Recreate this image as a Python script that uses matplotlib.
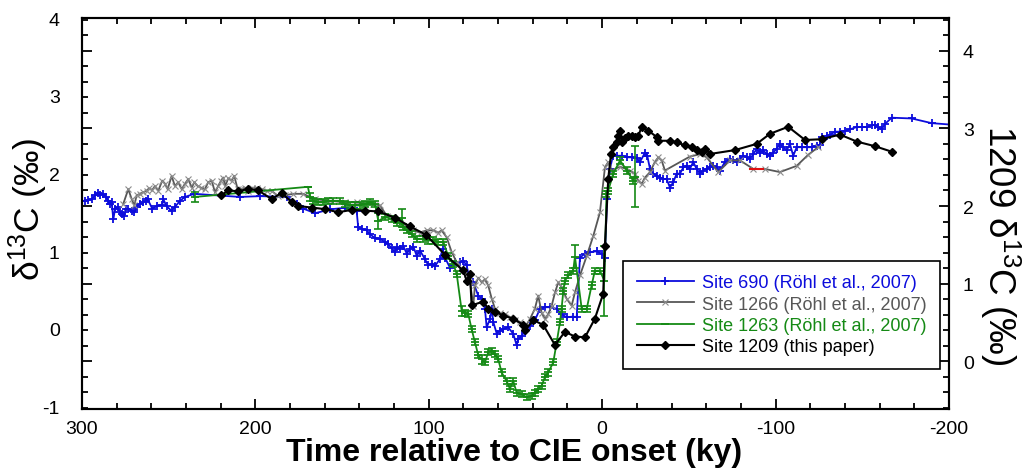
import matplotlib
matplotlib.use('Agg')
from matplotlib import pyplot
from matplotlib.ticker import MultipleLocator

pyplot.rcParams['font.family'] = ['Liberation Sans', 'DejaVu Sans']
pyplot.rcParams['mathtext.fontset'] = 'custom'
pyplot.rcParams['mathtext.rm'] = 'Liberation Sans'
pyplot.rcParams['mathtext.it'] = 'Liberation Sans:italic'
pyplot.rcParams['mathtext.bf'] = 'Liberation Sans:bold'
pyplot.rcParams['axes.unicode_minus'] = False

# Site 690 (Rohl et al., 2007), ky relative to CIE onset / d13C
site690_x = [300.5, 298.3, 296.4, 294.4, 292.5, 290.9, 289.6, 287.7, 286.3, 284.8,
             283.9, 282.9, 281.9, 281.0, 279.4, 278.1, 276.8, 275.6, 274.8, 273.3,
             271.3, 269.8, 268.5, 266.6, 264.6, 263.3, 262.1, 259.5, 256.9, 253.7,
             253.1, 251.2, 248.3, 246.4, 243.5, 240.6, 235.2, 208.9, 197.3, 182.0,
             176.2, 172.4, 165.6, 157.0, 148.3, 144.5, 141.6, 140.7, 138.7, 135.8,
             133.9, 131.0, 128.1, 125.3, 123.4, 121.4, 119.5, 118.5, 116.6, 114.7,
             112.7, 110.8, 108.9, 106.9, 105.1, 102.2, 100.3, 98.3, 96.4, 93.6,
             92.0, 90.7, 87.8, 84.9, 82.0, 80.1, 78.2, 76.2, 74.3, 71.5,
             69.5, 67.6, 66.6, 64.7, 63.7, 62.8, 60.8, 58.9, 57.0, 54.2,
             51.3, 49.3, 48.4, 46.4, 44.5, 41.6, 38.8, 35.9, 33.0, 30.1,
             26.2, 23.4, 20.5, 16.7, 14.7, 12.8, 9.9, 7.0, 3.2, 0.3,
             -1.6, -2.8, -4.5, -6.2, -8.4, -11.3, -14.1, -17.0, -19.9, -21.8,
             -24.7, -26.0, -27.6, -29.5, -31.4, -33.3, -35.3, -37.2, -39.1, -41.0,
             -43.0, -44.9, -46.8, -48.7, -50.6, -52.5, -54.5, -56.4, -58.3, -60.3,
             -62.2, -64.1, -66.0, -67.9, -70.8, -73.7, -75.6, -77.6, -79.5, -81.4,
             -83.3, -85.2, -87.2, -89.1, -91.0, -92.9, -94.9, -96.8, -98.7, -100.6,
             -102.5, -104.5, -106.4, -108.3, -110.2, -112.2, -115.0, -117.9, -120.8, -123.7,
             -125.6, -126.6, -129.5, -131.4, -134.3, -137.1, -140.0, -142.9, -146.8, -149.7,
             -152.5, -155.4, -157.3, -159.2, -161.2, -163.1, -167.0, -178.5, -190.0, -201.6]
site690_y = [1.65, 1.65, 1.66, 1.67, 1.72, 1.75, 1.72, 1.74, 1.70, 1.65,
             1.61, 1.63, 1.41, 1.54, 1.57, 1.50, 1.48, 1.46, 1.55, 1.55,
             1.52, 1.50, 1.57, 1.61, 1.63, 1.65, 1.67, 1.55, 1.58, 1.60,
             1.67, 1.58, 1.52, 1.57, 1.65, 1.70, 1.74, 1.70, 1.71, 1.70,
             1.61, 1.55, 1.49, 1.54, 1.56, 1.54, 1.52, 1.31, 1.29, 1.27,
             1.22, 1.17, 1.16, 1.12, 1.09, 1.04, 0.99, 1.05, 1.03, 1.07,
             0.97, 1.03, 1.06, 0.94, 1.01, 0.90, 0.82, 0.84, 0.81, 0.90,
             1.03, 0.92, 0.79, 0.86, 0.86, 0.88, 0.82, 0.62, 0.60, 0.43,
             0.39, 0.26, 0.02, 0.13, 0.26, 0.09, -0.06, -0.02, 0.00, 0.02,
             -0.06, -0.21, -0.13, -0.09, -0.02, 0.04, 0.11, 0.26, 0.28, 0.28,
             0.26, 0.19, 0.15, 0.16, 0.15, 0.92, 0.97, 0.99, 1.00, 0.97,
             0.92, 1.67, 2.06, 2.23, 2.23, 2.23, 2.21, 2.21, 2.20, 2.15,
             2.27, 2.23, 2.06, 2.00, 1.97, 1.95, 1.93, 1.93, 1.82, 1.89,
             2.00, 2.00, 2.08, 2.10, 2.06, 2.15, 2.06, 2.00, 2.04, 2.06,
             2.08, 2.10, 2.08, 2.04, 2.15, 2.19, 2.17, 2.15, 2.19, 2.23,
             2.21, 2.19, 2.25, 2.32, 2.27, 2.30, 2.25, 2.23, 2.27, 2.32,
             2.38, 2.34, 2.30, 2.38, 2.23, 2.34, 2.34, 2.34, 2.34, 2.36,
             2.37, 2.47, 2.48, 2.50, 2.54, 2.54, 2.55, 2.57, 2.60, 2.60,
             2.60, 2.62, 2.63, 2.60, 2.57, 2.64, 2.72, 2.71, 2.65, 2.63]

# Site 1266 (Rohl et al., 2007)
site1266_x = [276.2, 273.3, 271.3, 269.8, 268.5, 266.6, 264.7, 262.7, 261.4, 259.5,
              257.9, 256.0, 253.7, 252.1, 250.6, 248.3, 246.4, 244.5, 242.5, 240.6,
              238.7, 236.7, 235.2, 233.3, 231.4, 229.1, 227.2, 225.2, 223.3, 221.4,
              219.8, 218.5, 217.5, 215.6, 213.7, 212.2, 210.2, 208.3, 206.0, 204.1,
              202.1, 199.2, 196.4, 193.5, 190.6, 187.0, 183.0, 178.3, 172.4, 165.6,
              157.0, 148.3, 141.6, 136.8, 132.0, 128.1, 124.3, 120.5, 116.6, 112.8,
              109.0, 105.1, 101.2, 97.4, 94.5, 92.6, 89.7, 86.8, 83.9, 81.0,
              78.1, 76.2, 74.3, 73.4, 71.4, 69.5, 67.6, 65.7, 63.7, 61.8,
              58.9, 56.1, 53.2, 50.3, 47.4, 44.5, 41.6, 38.8, 36.9, 34.9,
              33.0, 31.1, 29.1, 27.2, 25.3, 23.4, 20.5, 17.6, 15.7, 12.8,
              8.9, 5.1, 1.3, -1.6, -3.5, -5.5, -10.3, -16.0, -18.9, -20.8,
              -22.8, -24.7, -27.6, -30.4, -32.4, -34.3, -36.2, -50.6, -56.4, -60.3,
              -66.9, -73.7, -79.5, -87.2, -93.9, -102.5, -112.2, -118.7, -124.5]
site1266_y = [1.61, 1.80, 1.67, 1.59, 1.72, 1.74, 1.76, 1.78, 1.81, 1.79,
              1.84, 1.78, 1.91, 1.87, 1.80, 1.97, 1.84, 1.89, 1.80, 1.87,
              1.93, 1.82, 1.89, 1.84, 1.82, 1.80, 1.89, 1.91, 1.76, 1.84,
              1.91, 1.95, 1.84, 1.94, 1.91, 1.97, 1.80, 1.80, 1.82, 1.78,
              1.82, 1.81, 1.80, 1.78, 1.78, 1.71, 1.72, 1.74, 1.74, 1.67,
              1.65, 1.63, 1.63, 1.61, 1.61, 1.59, 1.46, 1.44, 1.37, 1.33,
              1.27, 1.24, 1.27, 1.27, 1.24, 1.27, 1.18, 0.99, 0.86, 0.75,
              0.71, 0.60, 0.30, 0.56, 0.66, 0.60, 0.64, 0.56, 0.39, 0.26,
              0.21, 0.19, 0.15, 0.11, 0.09, 0.02, 0.13, 0.26, 0.43, 0.21,
              0.13, 0.19, 0.30, 0.47, 0.60, 0.54, 0.39, 0.30, 0.47, 0.69,
              0.94, 1.20, 1.50, 2.08, 2.15, 2.04, 2.09, 2.04, 2.00, 1.91,
              1.87, 1.95, 2.02, 2.15, 2.21, 2.17, 2.04, 2.22, 2.25, 2.21,
              2.02, 2.17, 2.17, 2.06, 2.06, 2.02, 2.10, 2.24, 2.34]

# Site 1263 (Rohl et al., 2007), with analytical error
site1263_x = [234.8, 169.7, 168.5, 166.6, 163.7, 160.8, 157.9, 155.1, 151.2, 148.3,
              145.4, 142.6, 139.7, 136.8, 133.9, 131.0, 129.1, 125.3, 121.4, 118.5,
              115.6, 114.7, 112.8, 109.9, 107.0, 103.2, 100.3, 97.4, 94.5, 91.6,
              88.8, 85.9, 83.9, 81.0, 79.1, 77.2, 75.3, 73.4, 71.4, 69.5,
              67.6, 65.7, 63.7, 61.8, 59.9, 58.0, 55.1, 53.2, 51.3, 49.3,
              46.4, 43.5, 40.7, 38.8, 36.9, 34.9, 33.0, 31.1, 28.2, 26.2,
              24.3, 23.4, 22.4, 21.5, 19.5, 16.7, 15.7, 11.8, 8.9, 6.1,
              4.2, 1.3, -1.3, -2.5, -3.5, -6.4, -10.3, -14.3, -17.8, -18.9]
site1263_y = [1.70, 1.83, 1.70, 1.65, 1.63, 1.63, 1.65, 1.65, 1.65, 1.61,
              1.59, 1.59, 1.59, 1.61, 1.63, 1.61, 1.39, 1.44, 1.42, 1.37,
              1.43, 1.31, 1.27, 1.22, 1.16, 1.16, 1.14, 1.14, 1.12, 1.12,
              0.94, 0.84, 0.71, 0.23, 0.21, 0.19, 0.00, -0.17, -0.34, -0.39,
              -0.43, -0.30, -0.28, -0.32, -0.39, -0.56, -0.67, -0.77, -0.67, -0.82,
              -0.84, -0.88, -0.86, -0.82, -0.77, -0.73, -0.62, -0.56, -0.43, -0.17,
              0.09, 0.26, 0.49, 0.62, 0.69, 0.75, 0.93, 0.26, 0.26, 0.56,
              0.75, 0.75, 0.62, 1.74, 1.78, 2.00, 2.17, 2.04, 1.91, 1.96]
site1263_err = [0.06, 0.0, 0.05, 0.04, 0.04, 0.04, 0.04, 0.04, 0.04, 0.04,
                0.04, 0.04, 0.04, 0.04, 0.04, 0.04, 0.10, 0.04, 0.04, 0.04,
                0.12, 0.04, 0.04, 0.04, 0.04, 0.04, 0.04, 0.04, 0.04, 0.04,
                0.04, 0.04, 0.04, 0.06, 0.04, 0.04, 0.04, 0.04, 0.04, 0.06,
                0.04, 0.04, 0.04, 0.04, 0.04, 0.04, 0.04, 0.04, 0.04, 0.04,
                0.04, 0.04, 0.04, 0.04, 0.04, 0.04, 0.04, 0.04, 0.04, 0.04,
                0.04, 0.04, 0.04, 0.04, 0.04, 0.04, 0.15, 0.04, 0.04, 0.04,
                0.04, 0.04, 0.45, 0.04, 0.04, 0.04, 0.04, 0.04, 0.04, 0.39]

# Site 1209 (this paper), plotted against the right-hand axis
site1209_x = [219.7, 215.6, 209.9, 204.1, 198.3, 190.6, 184.8, 179.1, 175.3, 167.5,
              159.9, 152.2, 144.5, 136.8, 129.1, 119.5, 111.1, 101.6, 90.6, 80.1,
              78.2, 76.2, 75.3, 68.6, 65.7, 61.8, 57.0, 51.3, 45.5, 44.5,
              39.7, 34.0, 27.2, 21.5, 15.7, 9.9, 4.2, -0.6, -1.6, -3.5,
              -5.1, -6.4, -8.4, -9.3, -10.3, -11.2, -13.1, -15.0, -17.0, -18.9,
              -20.8, -22.8, -26.6, -31.4, -32.4, -39.1, -43.0, -47.8, -51.6, -54.5,
              -57.4, -59.3, -62.2, -76.6, -89.1, -96.8, -107.3, -117.0, -126.6, -137.1,
              -146.8, -157.3, -166.9]
site1209_y = [2.14, 2.20, 2.19, 2.22, 2.20, 2.09, 2.17, 2.05, 2.00, 1.98,
              1.96, 1.92, 1.95, 1.94, 1.93, 1.85, 1.74, 1.63, 1.37, 1.17,
              1.04, 1.13, 0.72, 0.77, 0.68, 0.64, 0.59, 0.55, 0.47, 0.40,
              0.53, 0.47, 0.21, 0.38, 0.32, 0.31, 0.55, 0.87, 1.49, 2.35,
              2.67, 2.76, 2.83, 2.90, 2.96, 2.83, 2.88, 2.90, 2.90, 2.89,
              2.90, 3.02, 2.97, 2.89, 2.84, 2.84, 2.82, 2.78, 2.76, 2.72,
              2.69, 2.74, 2.67, 2.72, 2.80, 2.93, 3.02, 2.85, 2.86, 2.92,
              2.83, 2.77, 2.70]

# short red segment lying on the 1266 record
red_x = [-85.2, -92.9]
red_y = [2.06, 2.06]

x_ticks = [300, 200, 100, 0, -100, -200]
left_ticks = [-1, 0, 1, 2, 3, 4]
right_ticks = [0, 1, 2, 3, 4]

BLUE = '#0c0cdc'
GRAY = '#575757'
GREEN = '#158a15'
BLACK = '#000000'


def Plot():

    fig = pyplot.figure(figsize=(10.26, 4.77), dpi=100)
    ax = fig.add_axes([0.0799, 0.1405, 0.8450, 0.8191])
    ax2 = ax.twinx()

    l690, = ax.plot(site690_x, site690_y, color=BLUE, lw=1.3, marker='+',
                    ms=6, mew=1.3, label='Site 690 (Röhl et al., 2007)')
    l1266, = ax.plot(site1266_x, site1266_y, color=GRAY, lw=1.3, marker='x',
                     ms=4.5, mew=0.8, mec='#8c8c8c',
                     label='Site 1266 (Röhl et al., 2007)')
    ax.plot(red_x, red_y, color='#e01010', lw=1.5)
    ax.errorbar(site1263_x, site1263_y, yerr=site1263_err, fmt='none',
                ecolor=GREEN, elinewidth=1.2, capsize=3, capthick=1.2)
    l1263, = ax.plot(site1263_x, site1263_y, color=GREEN, lw=1.3, marker='_',
                     ms=6, mew=1.3, label='Site 1263 (Röhl et al., 2007)')
    l1209, = ax2.plot(site1209_x, site1209_y, color=BLACK, lw=1.5, marker='D',
                      ms=4, label='Site 1209 (this paper)')

    ax.set_xlim(300, -200)
    ax.set_ylim(-1.03, 4.0)
    ax2.set_ylim(-0.613, 4.417)

    ax.set_xticks(x_ticks)
    ax.set_xticklabels([str(t) for t in x_ticks])
    ax.xaxis.set_minor_locator(MultipleLocator(20))
    ax.tick_params(axis='x', which='both', direction='in', top=True,
                   bottom=True, labelsize=14, pad=8, width=1.3)
    ax.tick_params(axis='x', which='major', length=7.5)
    ax.tick_params(axis='x', which='minor', length=4)

    # left labels only; the tick marks on both spines belong to the 1209 axis
    ax.set_yticks(left_ticks)
    ax.set_yticklabels([str(t) for t in left_ticks])
    ax.tick_params(axis='y', which='both', length=0, labelsize=14, pad=16)

    ax2.set_yticks(right_ticks)
    ax2.yaxis.set_minor_locator(MultipleLocator(0.2))
    ax2.tick_params(axis='y', which='both', direction='in', left=True,
                    right=True, labelleft=False, labelright=True,
                    labelsize=14, pad=10, width=1.3)
    ax2.tick_params(axis='y', which='major', length=7.5)
    ax2.tick_params(axis='y', which='minor', length=4)

    for a in (ax, ax2):
        for s in a.spines.values():
            s.set_linewidth(1.5)

    ax.set_xlabel('Time relative to CIE onset (ky)', fontsize=23,
                  fontweight='bold')
    ax.xaxis.set_label_coords(0.498, -0.072)
    ax.set_ylabel('δ$^{13}$C (‰)', fontsize=25.5)
    ax.yaxis.set_label_coords(-0.037, 0.512)
    ax2.set_ylabel('1209 δ$^{13}$C (‰)', fontsize=26.5, rotation=270,
                   va='center')
    ax2.yaxis.set_label_coords(1.059, 0.422)

    handles = [l690, l1266, l1263, l1209]
    leg = ax2.legend(handles=handles, loc='upper left',
                     bbox_to_anchor=(0.624, 0.3796), borderaxespad=0,
                     fontsize=13, numpoints=1, handlelength=3.2,
                     handletextpad=0.4, labelspacing=0.24, borderpad=0.75,
                     fancybox=False, framealpha=1, edgecolor='black')
    leg.get_frame().set_linewidth(1.2)
    for text, color in zip(leg.get_texts(), [BLUE, GRAY, GREEN, BLACK]):
        text.set_color(color)

    fig.savefig('out.png', dpi=100)

    fig.clf()


if __name__ == "__main__":

    Plot()
